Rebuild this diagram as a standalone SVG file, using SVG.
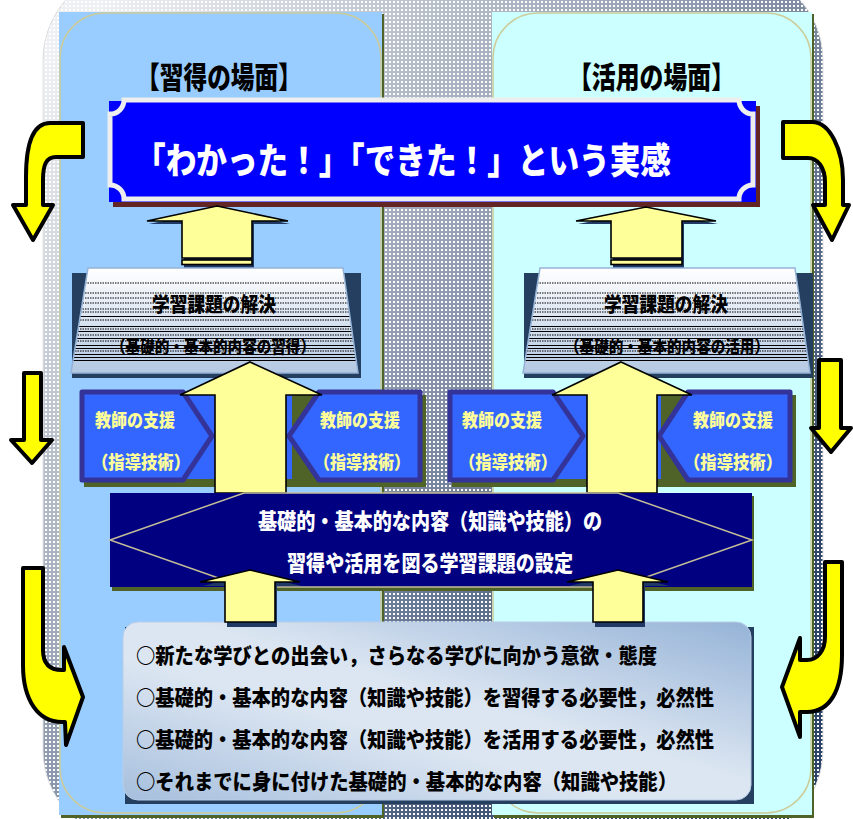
<svg xmlns="http://www.w3.org/2000/svg" width="853" height="819" viewBox="0 0 853 819">
<style>
.jp{font-family:"Noto Sans CJK JP","Noto Sans CJK SC",sans-serif;font-weight:900}
.ya{fill:#FFFF00;stroke:#000;stroke-width:4;stroke-linejoin:round}
.ua{fill:#FFFF99;stroke:#000;stroke-width:1.6;stroke-linejoin:miter}
.ush{fill:#1F3864}
.tb{fill:#3366FF;stroke:#333399;stroke-width:5;stroke-linejoin:round}
.tt{fill:#FFFF99;font-size:18px}
.dl{stroke:#000;stroke-width:1;stroke-dasharray:1.5 1}
.sl{stroke:#000;stroke-width:1}
</style>
<defs>
<pattern id="dots" width="4" height="4" patternUnits="userSpaceOnUse">
<rect width="4" height="4" fill="#2E4468"/>
<rect x="1" y="1" width="2" height="2" fill="#FFFFFF"/>
</pattern>
<linearGradient id="fade" gradientUnits="userSpaceOnUse" x1="100" y1="0" x2="800" y2="600">
<stop offset="0" stop-color="#FFFFFF" stop-opacity="0.92"/>
<stop offset="1" stop-color="#FFFFFF" stop-opacity="0"/>
</linearGradient>
<linearGradient id="tg" x1="0" y1="0" x2="0" y2="1">
<stop offset="0" stop-color="#FFFFFF"/>
<stop offset="1" stop-color="#B4C8E2"/>
</linearGradient>
<linearGradient id="bg" x1="1" y1="0" x2="0" y2="1">
<stop offset="0" stop-color="#95B3D7"/>
<stop offset="0.45" stop-color="#DCE6F2"/>
<stop offset="0.6" stop-color="#DCE6F2"/>
<stop offset="1" stop-color="#A6BFDD"/>
</linearGradient>
<clipPath id="tclip"><polygon points="88,268 343,268 358,373 71,373"/></clipPath>
<g id="trap">
<rect x="72" y="273" width="289" height="105" fill="#243F60"/>
<polygon points="88,268 343,268 358,373 71,373" fill="url(#tg)"/>
<g clip-path="url(#tclip)">
<line class="dl" x1="60" x2="370" y1="283" y2="283"/>
<line class="dl" x1="60" x2="370" y1="293" y2="293"/>
<line class="dl" x1="60" x2="370" y1="298" y2="298"/>
<line class="dl" x1="60" x2="370" y1="303" y2="303"/>
<line class="dl" x1="60" x2="370" y1="309" y2="309"/>
<line class="dl" x1="60" x2="370" y1="312" y2="312"/>
<line class="sl" x1="60" x2="370" y1="316.5" y2="316.5"/>
<line class="dl" x1="60" x2="370" y1="320" y2="320"/>
<line class="sl" x1="60" x2="370" y1="326.5" y2="326.5"/>
<line class="dl" x1="60" x2="370" y1="329" y2="329"/>
<line class="sl" x1="60" x2="370" y1="331.5" y2="331.5"/>
<line class="dl" x1="60" x2="370" y1="335" y2="335"/>
<line class="sl" x1="60" x2="370" y1="338.5" y2="338.5"/>
<line class="dl" x1="60" x2="370" y1="341" y2="341"/>
<line class="sl" x1="60" x2="370" y1="345.5" y2="345.5"/>
<line class="sl" x1="60" x2="370" y1="348.5" y2="348.5"/>
<line class="dl" x1="60" x2="370" y1="351" y2="351"/>
<line class="sl" x1="60" x2="370" y1="354.5" y2="354.5"/>
<line class="sl" x1="60" x2="370" y1="357.5" y2="357.5"/>
<line class="sl" x1="60" x2="370" y1="360.5" y2="360.5"/>
</g>
<polygon points="88,268 343,268 358,373 71,373" fill="none" stroke="#95B3D7" stroke-width="1.5"/>
</g>
</defs>

<g id="background">
<rect x="0" y="0" width="853" height="819" fill="#FFFFFF"/>
<rect x="43" y="-30" width="780" height="870" rx="90" ry="90" fill="url(#dots)"/>
<rect x="43" y="-30" width="780" height="870" rx="90" ry="90" fill="url(#fade)" stroke="#E4E4E4" stroke-width="1"/>
</g>

<g id="panel-left">
<rect x="61" y="14" width="323" height="804" fill="#4F6228"/>
<rect x="59" y="12" width="323" height="803" fill="#99CCFF"/>
<rect x="60" y="13" width="321" height="800" rx="45" ry="45" fill="none" stroke="#CCCC99" stroke-width="1.5"/>
<text class="jp" x="136" y="88" font-size="30" textLength="166" lengthAdjust="spacingAndGlyphs" fill="#000">【習得の場面】</text>
</g>

<g id="panel-right">
<rect x="494" y="14" width="320" height="804" fill="#4F6228"/>
<rect x="492" y="12" width="320" height="803" fill="#CCFFFF"/>
<rect x="493" y="13" width="318" height="800" rx="45" ry="45" fill="none" stroke="#CCCC99" stroke-width="1.5"/>
<text class="jp" x="568" y="88" font-size="30" textLength="167" lengthAdjust="spacingAndGlyphs" fill="#000">【活用の場面】</text>
</g>

<g id="banner">
<rect x="113" y="106" width="647" height="101" fill="#632523"/>
<rect x="109" y="101" width="647" height="101" fill="#0000FF"/>
<path d="M124,100 H739 A14,14 0 0 0 753,114 V185 A14,14 0 0 0 739,199 H124 A14,14 0 0 0 110,185 V114 A14,14 0 0 0 124,100 Z" fill="none" stroke="#EEEEEE" stroke-width="5"/>
<text class="jp" x="135" y="174" font-size="36" textLength="536" lengthAdjust="spacingAndGlyphs" fill="#FFFFFF">「わかった！」「できた！」という実感</text>
</g>

<g id="connectors">
<g id="arrow-top-left">
<polygon class="ush" points="219,209 290,224 254,224 254,269 184,269 184,224 149,224"/>
<polygon class="ua" points="217,206 288,221 252,221 252,258 182,258 182,221 147,221"/>
<rect class="ua" x="182" y="260" width="70" height="4.5" stroke-width="1.3"/>
</g>
<g id="arrow-top-right">
<polygon class="ush" points="648,210 718,224 684,224 684,269 613,269 613,224 578,224"/>
<polygon class="ua" points="646,207 716,221 682,221 682,258 611,258 611,221 576,221"/>
<rect class="ua" x="611" y="260" width="71" height="4.5" stroke-width="1.3"/>
</g>
</g>

<g id="trap-left">
<use href="#trap"/>
<text class="jp" x="152" y="312" font-size="20" textLength="124" lengthAdjust="spacingAndGlyphs" fill="#000">学習課題の解決</text>
<text class="jp" x="111" y="353" font-size="17" textLength="204" lengthAdjust="spacingAndGlyphs" fill="#000">（基礎的・基本的内容の習得）</text>
</g>

<g id="trap-right">
<use href="#trap" transform="translate(452,0)"/>
<text class="jp" x="604" y="312" font-size="20" textLength="124" lengthAdjust="spacingAndGlyphs" fill="#000">学習課題の解決</text>
<text class="jp" x="565" y="353" font-size="17" textLength="204" lengthAdjust="spacingAndGlyphs" fill="#000">（基礎的・基本的内容の活用）</text>
</g>

<g id="support-shadows">
<rect x="84" y="395" width="342" height="92" fill="#4F6228"/>
<rect x="452" y="395" width="344" height="92" fill="#4F6228"/>
<rect x="180" y="393" width="112" height="86" fill="#3366FF"/>
<rect x="551" y="393" width="110" height="86" fill="#3366FF"/>
</g>

<g id="support-1">
<path class="tb" d="M82,392 H183 L212,436 L183,480 H82 Z"/>
<text class="jp tt" x="95" y="427" textLength="80" lengthAdjust="spacingAndGlyphs">教師の支援</text>
<text class="jp tt" x="92" y="469" textLength="98" lengthAdjust="spacingAndGlyphs">（指導技術）</text>
</g>
<g id="support-2">
<path class="tb" d="M420,392 H319 L289,436 L319,480 H420 Z"/>
<text class="jp tt" x="320" y="427" textLength="80" lengthAdjust="spacingAndGlyphs">教師の支援</text>
<text class="jp tt" x="314" y="469" textLength="96" lengthAdjust="spacingAndGlyphs">（指導技術）</text>
</g>
<g id="support-3">
<path class="tb" d="M450,392 H553 L583,436 L553,480 H450 Z"/>
<text class="jp tt" x="462" y="427" textLength="80" lengthAdjust="spacingAndGlyphs">教師の支援</text>
<text class="jp tt" x="459" y="469" textLength="98" lengthAdjust="spacingAndGlyphs">（指導技術）</text>
</g>
<g id="support-4">
<path class="tb" d="M790,392 H688 L659,436 L688,480 H790 Z"/>
<text class="jp tt" x="693" y="427" textLength="80" lengthAdjust="spacingAndGlyphs">教師の支援</text>
<text class="jp tt" x="684" y="469" textLength="98" lengthAdjust="spacingAndGlyphs">（指導技術）</text>
</g>

<g id="connectors-mid">
<polygon class="ua" stroke-width="2" points="250,362 322,395 286,395 286,493 215,493 215,395 180,395"/>
<polygon class="ua" stroke-width="2" points="621,362 692,395 657,395 657,493 587,493 587,395 552,395"/>
</g>

<g id="task-setting">
<rect x="112" y="496" width="642" height="95" fill="#4F6228"/>
<rect x="110" y="493" width="642" height="94" fill="#000080"/>
<polygon points="110,540 244,493 618,493 752,540 618,587 244,587" fill="none" stroke="#C4BD97" stroke-width="1.5"/>
<text class="jp" x="258" y="529" font-size="22" textLength="344" lengthAdjust="spacingAndGlyphs" fill="#FFFFFF">基礎的・基本的な内容（知識や技能）の</text>
<text class="jp" x="287" y="571" font-size="22" textLength="286" lengthAdjust="spacingAndGlyphs" fill="#FFFFFF">習得や活用を図る学習課題の設定</text>
</g>

<g id="motivation">
<rect x="125" y="627" width="629" height="177" fill="#243F60"/>
<rect x="123" y="622" width="628" height="178" rx="15" ry="15" fill="url(#bg)" stroke="#B9CDE5" stroke-width="1"/>
<text class="jp" x="136" y="663" font-size="21" textLength="521" lengthAdjust="spacingAndGlyphs" fill="#000">○新たな学びとの出会い，さらなる学びに向かう意欲・態度</text>
<text class="jp" x="136" y="705" font-size="21" textLength="578" lengthAdjust="spacingAndGlyphs" fill="#000">○基礎的・基本的な内容（知識や技能）を習得する必要性，必然性</text>
<text class="jp" x="136" y="747" font-size="21" textLength="578" lengthAdjust="spacingAndGlyphs" fill="#000">○基礎的・基本的な内容（知識や技能）を活用する必要性，必然性</text>
<text class="jp" x="136" y="789" font-size="21" textLength="541" lengthAdjust="spacingAndGlyphs" fill="#000">○それまでに身に付けた基礎的・基本的な内容（知識や技能）</text>
</g>

<g id="connectors-bottom">
<polygon class="ush" points="252,574 302,586 277,586 277,627 227,627 227,586 202,586"/>
<polygon class="ua" points="250,570 300,582 275,582 275,622 225,622 225,582 200,582"/>
<polygon class="ush" points="620,574 670,586 645,586 645,627 595,627 595,586 569,586"/>
<polygon class="ua" points="618,570 668,582 643,582 643,622 593,622 593,582 567,582"/>
</g>

<g id="cycle-arrows">
<path class="ya" d="M83,123 L50,123 C35,123 26,140 26,177 L26,205 L13,205 L33,240 L53,205 L43,205 L43,180 C43,165 46,157 56,157 L83,157 Z"/>
<path class="ya" d="M783,122 L812,122 C830,122 843,150 843,180 L843,205 L849,205 L832,240 L813,205 L825,205 L825,182 C825,168 818,158 808,158 L783,158 Z"/>
<path class="ya" d="M24,373 L41,373 L41,440 L52,440 L32,463 L11,440 L24,440 Z"/>
<path class="ya" d="M819,360 L841,360 L841,428 L851,428 L831,452 L811,428 L819,428 Z"/>
<path class="ya" d="M23,568 L43,568 L43,650 C43,664 50,670 62,670 L64,670 L64,647 L83,697 L66,745 L65,722 L62,722 C38,722 23,700 23,665 Z"/>
<path class="ya" d="M825,562 L842,562 L842,655 C842,690 830,712 807,712 L800,712 L800,737 L782,687 L800,638 L800,660 L807,660 C818,660 825,650 825,637 Z"/>
</g>
</svg>
